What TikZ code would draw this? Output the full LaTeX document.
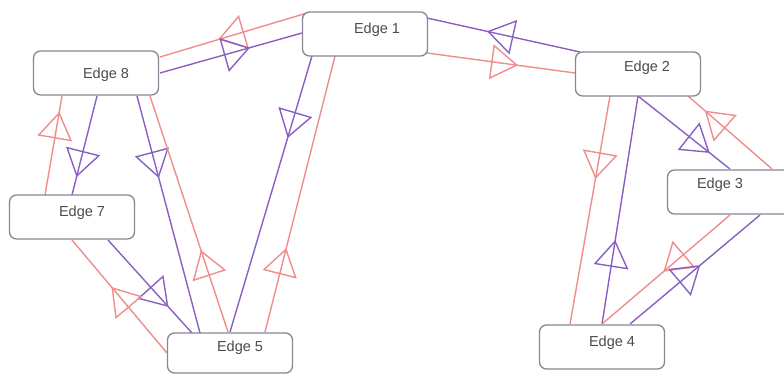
\documentclass[tikz,border=0pt]{standalone}
\usepackage{fontspec}
\setmainfont{Liberation Sans}
\usetikzlibrary{arrows.meta,decorations.markings}
\definecolor{pinkline}{RGB}{240,140,140}
\definecolor{purpline}{RGB}{138,95,196}
\definecolor{boxgray}{RGB}{135,135,150}
\definecolor{txtgray}{RGB}{75,75,75}
\pgfdeclarelayer{bg}
\pgfsetlayers{bg,main}
\tikzset{
  box/.style={draw=boxgray, fill=white, line width=1.3pt, rounded corners=7pt,
    minimum width=125pt, minimum height=44pt, inner sep=0pt},
  lbl/.style={font=\fontsize{14.5pt}{16pt}\selectfont, text=txtgray, inner sep=0pt},
  conn/.style={line width=1.4pt},
  pk/.style={conn, draw=pinkline},
  pu/.style={conn, draw=purpline},
  mid/.style={postaction={decorate, decoration={markings,
    mark=at position #1 with {\arrow{Triangle[open,length=27pt,width=35pt]}}}}}
}
\begin{document}
\begin{tikzpicture}[x=1pt,y=-1pt]
\useasboundingbox (0,0) rectangle (784,377);
\clip (0,0) rectangle (784,377);
\node[box, label={[lbl,xshift=10pt,yshift=-2pt]center:Edge 8}] (e8) at (96,73) {};
\node[box, label={[lbl,xshift=12pt,yshift=4pt]center:Edge 1}] (e1) at (365,34) {};
\node[box, label={[lbl,xshift=9pt,yshift=6pt]center:Edge 2}] (e2) at (638,74) {};
\node[box, label={[lbl,xshift=-10pt,yshift=7pt]center:Edge 3}] (e3) at (730,192) {};
\node[box, label={[lbl,xshift=10pt,yshift=4pt]center:Edge 4}] (e4) at (602,347) {};
\node[box, label={[lbl,xshift=10pt,yshift=4pt]center:Edge 7}] (e7) at (72,217) {};
\node[box, minimum height=40pt, label={[lbl,xshift=10pt,yshift=5pt]center:Edge 5}] (e5) at (230,353) {};
\begin{pgfonlayer}{bg}
% Edge 1 <-> Edge 8
\draw[pk, mid=0.605] ([shift={(-58,-21)}]e1.center) -- ([shift={(64,-16)}]e8.center);
\draw[pu, mid=0.634] ([shift={(64,0)}]e8.center) -- ([shift={(-63,-1)}]e1.center);
% Edge 1 <-> Edge 2
\draw[pu, mid=0.608] ([shift={(-58,-22)}]e2.center) -- ([shift={(62,-16)}]e1.center);
\draw[pk, mid=0.615] ([shift={(62,19)}]e1.center) -- ([shift={(-63,-1)}]e2.center);
% Edge 2 <-> Edge 3
\draw[pu, mid=0.78] ([shift={(0,22)}]e2.center) -- ([shift={(0,-23)}]e3.center);
\draw[pk, mid=0.80] ([shift={(42,-23)}]e3.center) -- ([shift={(50,22)}]e2.center);
% Edge 2 <-> Edge 4
\draw[pk, mid=0.364] ([shift={(-28,22)}]e2.center) -- ([shift={(-32,-23)}]e4.center);
\draw[pu, mid=0.368] ([shift={(0,-23)}]e4.center) -- ([shift={(0,22)}]e2.center);
% Edge 3 <-> Edge 4
\draw[pk, mid=0.52] ([shift={(0,23)}]e3.center) -- ([shift={(0,-23)}]e4.center);
\draw[pu, mid=0.54] ([shift={(28,-23)}]e4.center) -- ([shift={(30,23)}]e3.center);
% Edge 8 <-> Edge 7
\draw[pk, mid=0.84] ([shift={(-27,-22)}]e7.center) -- ([shift={(-34,23)}]e8.center);
\draw[pu, mid=0.82] ([shift={(1,23)}]e8.center) -- ([shift={(0,-22)}]e7.center);
% Edge 8 <-> Edge 5
\draw[pu, mid=0.346] ([shift={(41,23)}]e8.center) -- ([shift={(-30,-20)}]e5.center);
\draw[pk, mid=0.347] ([shift={(-2,-21)}]e5.center) -- ([shift={(54,23)}]e8.center);
% Edge 1 <-> Edge 5
\draw[pu, mid=0.297] ([shift={(-53,22)}]e1.center) -- ([shift={(0,-21)}]e5.center);
\draw[pk, mid=0.304] ([shift={(35,-21)}]e5.center) -- ([shift={(-30,22)}]e1.center);
% Edge 7 <-> Edge 5
\draw[pu, mid=0.72] ([shift={(36,23)}]e7.center) -- ([shift={(-38,-20)}]e5.center);
\draw[pk, mid=0.584] ([shift={(-63,0)}]e5.center) -- ([shift={(0,23)}]e7.center);
\end{pgfonlayer}
\end{tikzpicture}
\end{document}
